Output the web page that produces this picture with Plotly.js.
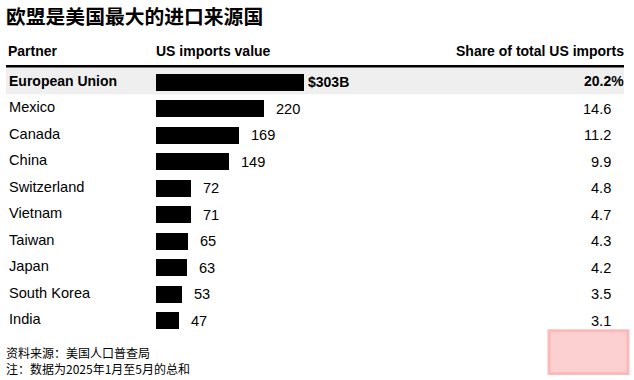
<!DOCTYPE html>
<html><head><meta charset="utf-8">
<script src="https://cdn.plot.ly/plotly-3.0.1.min.js"></script>
<style>html,body{margin:0;padding:0;background:#fff;}#chart{width:634px;height:380px;}</style>
</head><body><div id="chart"></div>
<script>
var partners = ["European Union","Mexico","Canada","China","Switzerland","Vietnam","Taiwan","Japan","South Korea","India"];
var importValues = [303,220,169,149,72,71,65,63,53,47];
var shares = [20.2,14.6,11.2,9.9,4.8,4.7,4.3,4.2,3.5,3.1];
var headers = ["Partner","US imports value","Share of total US imports"];
var titleText = "欧盟是美国最大的进口来源国";
var notes = ["资料来源：美国人口普查局","注：数据为2025年1月至5月的总和"];

var W=634,H=380, L=156, plotW=294, T=68.7, B=45.7;
var plotH = H-T-B;
function px(x){return (x-L)/plotW;}
function py(y){return 1-(y-T)/plotH;}
var F = "Liberation Sans, Arial, Helvetica, sans-serif";
var CJK = "Noto Sans CJK SC, sans-serif";
var idx = partners.map(function(_,i){return i;});

var trace = {type:'bar', orientation:'h', x:importValues, y:idx, width:0.64,
  marker:{color:'#000000'}, hoverinfo:'skip'};

var ann = [];
partners.forEach(function(p,i){
  var bold = i===0;
  var fs = bold?14:14.6;
  ann.push({xref:'paper',yref:'y',x:px(7),y:i,yshift:1.5,xanchor:'left',yanchor:'middle',showarrow:false,
    text: bold? '<b>'+p+'</b>':p, font:{family:F,size:fs,color:'#000'}});
  ann.push({xref:'x',yref:'y',x:importValues[i],y:i,xanchor:'left',yanchor:'middle',showarrow:false,
    xshift: bold?2:10, text: bold? '<b>$'+importValues[i]+'B</b>': String(importValues[i]),
    font:{family:F,size:fs,color:'#000'}});
  ann.push({xref:'paper',yref:'y',x:px(bold?626:613),y:i,yshift:bold?1.5:0,xanchor:'right',yanchor:'middle',showarrow:false,
    text: bold? '<b>'+shares[i].toFixed(1)+'%</b>': shares[i].toFixed(1),
    font:{family:F,size:fs,color:'#000'}});
});
ann.push({xref:'paper',yref:'paper',x:px(6),y:py(51),xanchor:'left',yanchor:'middle',showarrow:false,text:'<b>'+headers[0]+'</b>',font:{family:F,size:14,color:'#000'}});
ann.push({xref:'paper',yref:'paper',x:px(154),y:py(51),xanchor:'left',yanchor:'middle',showarrow:false,text:'<b>'+headers[1]+'</b>',font:{family:F,size:14,color:'#000'}});
ann.push({xref:'paper',yref:'paper',x:px(626),y:py(51),xanchor:'right',yanchor:'middle',showarrow:false,text:'<b>'+headers[2]+'</b>',font:{family:F,size:14,color:'#000'}});
ann.push({xref:'paper',yref:'paper',x:px(4),y:py(15),xanchor:'left',yanchor:'middle',showarrow:false,text:'<b>'+titleText+'</b>',font:{family:CJK,size:19.8,color:'#000'}});
ann.push({xref:'paper',yref:'paper',x:px(4),y:py(361),xanchor:'left',yanchor:'middle',align:'left',showarrow:false,text:notes[0]+'<br>'+notes[1],font:{family:CJK,size:12,color:'#000'}});

var shapes = [
  {type:'rect',xref:'paper',yref:'paper',x0:px(6),x1:px(624),y0:py(67),y1:py(94),fillcolor:'#efefef',line:{width:0},layer:'below'},
  {type:'line',xref:'paper',yref:'paper',x0:px(6),x1:px(624),y0:py(66),y1:py(66),line:{color:'#000',width:2.5}},
  {type:'rect',xref:'paper',yref:'paper',x0:px(549),x1:px(628),y0:py(331),y1:py(374),fillcolor:'#fcd0d0',line:{color:'#fbbaba',width:3},layer:'below'}
];

var layout = {width:W,height:H,margin:{l:L,r:W-L-plotW,t:T,b:B},
  paper_bgcolor:'#fff',plot_bgcolor:'rgba(0,0,0,0)',showlegend:false,
  xaxis:{range:[0,600],visible:false,fixedrange:true},
  yaxis:{range:[9.5,-0.5],visible:false,fixedrange:true},
  annotations:ann, shapes:shapes, bargap:0};
Plotly.newPlot('chart',[trace],layout,{displayModeBar:false,staticPlot:true});
</script></body></html>
